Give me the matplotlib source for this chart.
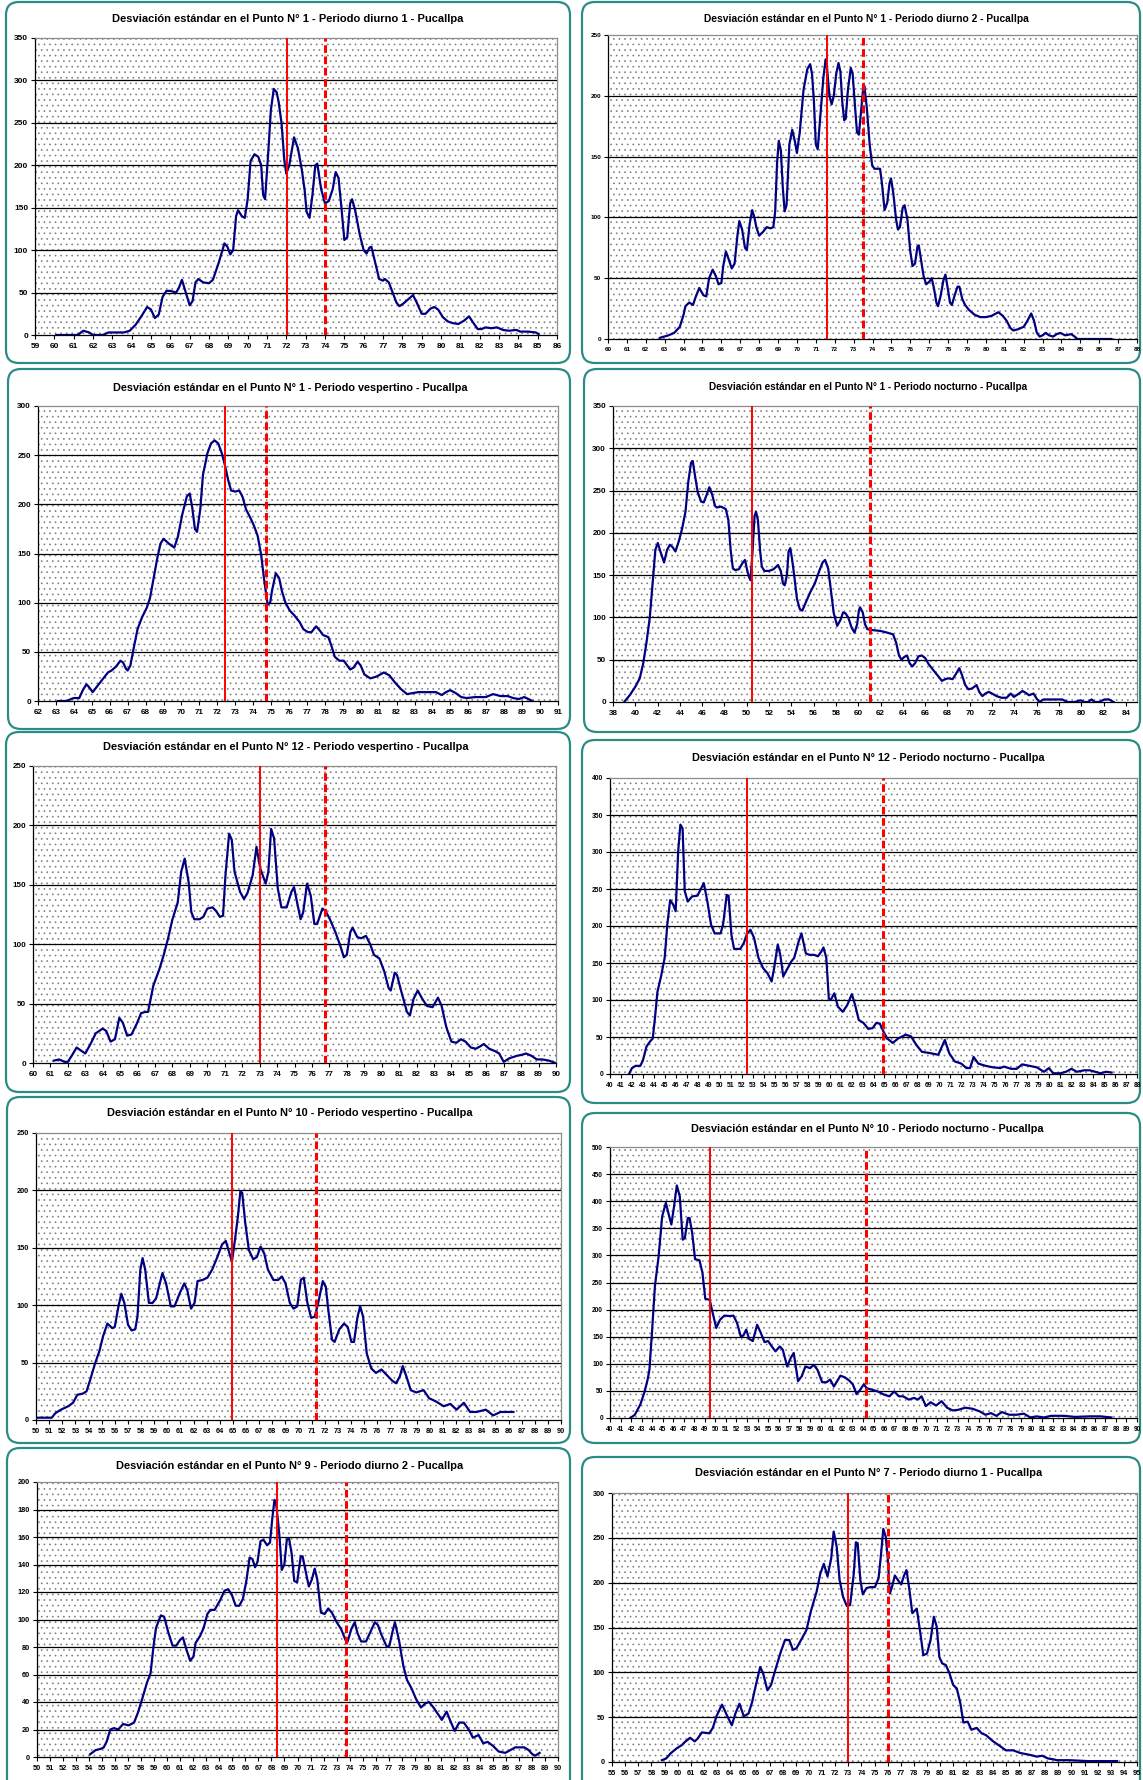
import matplotlib
matplotlib.use("Agg")
import matplotlib.pyplot as plt
from matplotlib.patches import FancyBboxPatch, Rectangle
import numpy as np

W, H = 1143, 1780
TEAL = "#2b8c86"
NAVY = "#000080"
RED = "#ff0000"

# ── data ────────────────────────────────────────────────────────────
p1_x = [60.1, 61.2, 61.5, 61.8, 62.0, 62.5, 62.8, 63.2, 63.6, 63.9,
        64.2, 64.5, 64.8, 65.0, 65.2, 65.4, 65.6, 65.8, 66.0, 66.3,
        66.45, 66.6, 66.8, 67.0, 67.15, 67.3, 67.45, 67.7, 68.0, 68.2,
        68.5, 68.8, 68.95, 69.1, 69.25, 69.4, 69.5, 69.7, 69.85, 70.0,
        70.15, 70.35, 70.55, 70.7, 70.8, 70.9, 71.05, 71.2, 71.35, 71.5,
        71.6, 71.75, 71.9, 72.0, 72.15, 72.4, 72.6, 72.8, 72.95, 73.05,
        73.2, 73.35, 73.5, 73.6, 73.8, 74.0, 74.2, 74.4, 74.55, 74.7,
        74.85, 75.0, 75.15, 75.3, 75.4, 75.55, 75.8, 76.0, 76.15, 76.3,
        76.4, 76.6, 76.8, 77.0, 77.1, 77.3, 77.5, 77.7, 77.85, 78.05,
        78.3, 78.55, 78.75, 79.0, 79.2, 79.45, 79.65, 79.85, 80.1, 80.35,
        80.6, 80.9, 81.2, 81.45, 81.65, 81.9, 82.1, 82.3, 82.6, 82.9,
        83.2, 83.5, 83.9, 84.1, 84.5, 84.9, 85.05]
p1_y = [0, 0, 5, 3, 0, 0, 3, 3, 3, 5,
        12, 22, 33, 30, 20, 24, 45, 52, 52, 50,
        56, 65, 50, 35, 40, 62, 66, 62, 61, 65,
        85, 108, 104, 95, 100, 140, 147, 140, 138, 160,
        205, 213, 210, 200, 165, 160, 210, 265, 290, 286,
        275, 250, 205, 190, 200, 233, 220, 195, 170, 145,
        138, 165, 200, 202, 172, 155, 158, 172, 192, 185,
        150, 112, 115, 155, 160, 148, 118, 100, 96, 103,
        104, 85, 66, 64, 66, 62, 50, 38, 34, 37,
        42, 47, 38, 25, 25, 31, 33, 30, 21, 16,
        14, 13, 17, 22, 15, 7, 7, 9, 8, 9,
        6, 5, 6, 4, 4, 3, 1]

p2_x = [62.75, 63.2, 63.5, 63.8, 64.0, 64.1, 64.3, 64.5, 64.65, 64.83,
        65.05, 65.2, 65.35, 65.54, 65.7, 65.85, 66.0, 66.1, 66.24, 66.4,
        66.55, 66.7, 66.85, 66.95, 67.1, 67.25, 67.35, 67.5, 67.63, 67.75,
        67.85, 68.0, 68.2, 68.4, 68.6, 68.75, 68.85, 68.95, 69.04, 69.15,
        69.25, 69.35, 69.45, 69.6, 69.75, 69.9, 70.0, 70.15, 70.35, 70.55,
        70.7, 70.8, 70.9, 71.0, 71.1, 71.25, 71.4, 71.52, 71.6, 71.72,
        71.84, 71.95, 72.08, 72.2, 72.3, 72.4, 72.5, 72.58, 72.7, 72.85,
        72.95, 73.08, 73.18, 73.28, 73.38, 73.5, 73.57, 73.7, 73.85, 73.98,
        74.1, 74.4, 74.5, 74.64, 74.78, 74.9, 74.98, 75.1, 75.25, 75.35,
        75.45, 75.6, 75.7, 75.85, 76.0, 76.12, 76.25, 76.38, 76.45, 76.6,
        76.7, 76.84, 77.0, 77.13, 77.25, 77.38, 77.47, 77.6, 77.75, 77.86,
        78.0, 78.1, 78.2, 78.35, 78.5, 78.6, 78.75, 78.9, 79.1, 79.4,
        79.7, 80.0, 80.3, 80.66, 80.9, 81.1, 81.3, 81.45, 81.7, 82.0,
        82.2, 82.4, 82.55, 82.7, 82.85, 83.0, 83.17, 83.35, 83.56, 83.75,
        83.94, 84.2, 84.52, 84.7, 84.85, 85.5, 86.65]
p2_y = [1, 3, 5, 10, 20, 27, 30, 28, 35, 42,
        36, 35, 50, 57, 52, 45, 46, 60, 72, 65,
        58, 62, 85, 97, 90, 75, 73, 95, 106, 100,
        92, 85, 88, 92, 91, 92, 105, 145, 163, 155,
        125, 105, 110, 160, 172, 162, 153, 170, 205, 222,
        226, 218, 195, 160, 156, 185, 215, 230, 222, 200,
        193, 200, 218, 227, 220, 195, 180, 181, 205, 223,
        218, 190, 170, 168, 185, 205, 208, 190, 160, 143,
        140, 140, 128, 106, 112, 128, 132, 120, 98, 90,
        92, 108, 110, 98, 72, 60, 62, 76, 77, 62,
        52, 45, 47, 50, 42, 30, 27, 35, 48, 53,
        40, 30, 28, 36, 43, 43, 33, 28, 24, 20,
        18, 18, 19, 22, 19, 15, 9, 7, 8, 10,
        15, 21, 15, 5, 2, 3, 5, 3, 2, 4,
        5, 3, 4, 2, 0, 0, 0]

p3_x = [63.1, 63.6, 63.85, 64.0, 64.3, 64.5, 64.7, 64.85, 65.05, 65.3,
        65.6, 65.9, 66.1, 66.35, 66.6, 66.75, 66.9, 67.0, 67.15, 67.35,
        67.55, 67.8, 68.07, 68.25, 68.45, 68.65, 68.83, 69.0, 69.3, 69.6,
        69.8, 70.05, 70.3, 70.46, 70.6, 70.75, 70.87, 71.05, 71.2, 71.45,
        71.65, 71.85, 72.05, 72.25, 72.45, 72.6, 72.77, 73.0, 73.22, 73.4,
        73.6, 73.85, 74.05, 74.25, 74.45, 74.6, 74.75, 74.81, 74.95, 75.05,
        75.26, 75.45, 75.6, 75.8, 76.04, 76.3, 76.6, 76.8, 77.06, 77.25,
        77.51, 77.7, 77.9, 78.19, 78.35, 78.55, 78.8, 79.05, 79.25, 79.41,
        79.6, 79.82, 80.0, 80.2, 80.54, 80.9, 81.29, 81.6, 81.9, 82.25,
        82.58, 82.9, 83.19, 83.7, 84.2, 84.52, 84.75, 84.99, 85.3, 85.6,
        85.9, 86.4, 86.97, 87.38, 87.8, 88.2, 88.5, 88.81, 89.12, 89.35,
        89.57]
p3_y = [0, 0, 2, 3, 3, 11, 17, 14, 9, 15,
        22, 29, 31, 35, 41, 39, 33, 31, 36, 55,
        73, 85, 95, 105, 125, 145, 160, 165, 160, 156,
        167, 190, 208, 211, 197, 175, 172, 195, 230, 252,
        262, 265, 262, 252, 238, 225, 214, 213, 214, 208,
        195, 186, 178, 168, 148, 125, 105, 98, 100, 112,
        130, 125, 112, 100, 92, 87, 80, 73, 70, 70,
        76, 72, 67, 65, 57, 45, 41, 41, 36, 32,
        34, 40, 36, 27, 23, 25, 29, 26, 19, 12,
        7, 8, 9, 9, 9, 6, 9, 11, 8, 4,
        3, 4, 4, 7, 5, 5, 3, 2, 4, 2,
        0]

p4_x = [39.0, 39.5, 40.0, 40.4, 40.7, 41.0, 41.3, 41.55, 41.8, 42.02,
        42.25, 42.58, 42.85, 43.11, 43.35, 43.6, 43.9, 44.2, 44.5, 44.75,
        45.0, 45.15, 45.35, 45.6, 45.9, 46.14, 46.4, 46.64, 46.9, 47.15,
        47.3, 47.7, 48.12, 48.35, 48.55, 48.75, 48.95, 49.3, 49.6, 49.84,
        50.05, 50.2, 50.33, 50.5, 50.7, 50.83, 51.0, 51.2, 51.35, 51.58,
        52.0, 52.4, 52.8, 53.05, 53.25, 53.4, 53.6, 53.75, 53.9, 54.05,
        54.25, 54.5, 54.75, 54.98, 55.3, 55.7, 56.1, 56.5, 56.8, 57.02,
        57.3, 57.55, 57.8, 58.11, 58.4, 58.64, 58.84, 59.1, 59.4, 59.66,
        59.9, 60.05, 60.16, 60.4, 60.6, 60.82, 61.3, 62.0, 62.6, 63.12,
        63.4, 63.65, 63.88, 64.1, 64.38, 64.6, 64.84, 65.1, 65.4, 65.7,
        66.0, 66.3, 66.59, 66.9, 67.2, 67.5, 67.8, 68.07, 68.46, 68.75,
        69.06, 69.3, 69.6, 69.88, 70.2, 70.61, 70.85, 71.13, 71.4, 71.7,
        72.0, 72.4, 72.85, 73.3, 73.68, 73.95, 74.3, 74.73, 75.0, 75.32,
        75.72, 76.0, 76.25, 76.6, 76.97, 77.6, 78.29, 78.78, 79.4, 79.94,
        80.3, 80.6, 80.93, 81.2, 81.6, 82.08, 82.5, 82.9]
p4_y = [0, 8, 18, 28, 45, 70, 100, 140, 180, 188,
        178, 165, 180, 186, 183, 178, 190, 205, 225, 260,
        283, 285, 268, 248, 237, 236, 245, 254, 245, 232,
        230, 231, 228, 215, 180, 158, 156, 157, 164, 168,
        155, 148, 144, 175, 220, 225, 215, 178, 160, 155,
        155, 157, 162, 155, 140, 138, 150, 178, 182, 170,
        150, 122, 110, 108, 118, 130, 140, 155, 165, 168,
        158, 132, 105, 90, 97, 106, 105, 100, 88, 82,
        92, 108, 112, 106, 92, 86, 85, 84, 82, 80,
        70, 55, 50, 53, 55, 46, 42, 46, 54, 55,
        52, 45, 40, 35, 30, 25, 27, 28, 27, 33,
        40, 32, 20, 15, 16, 20, 12, 7, 10, 12,
        10, 7, 5, 5, 10, 6, 9, 13, 11, 8,
        10, 4, 0, 3, 3, 3, 3, 0, 0, 2,
        0, 0, 3, 0, 0, 3, 3, 0]

p5_x = [61.2, 61.5, 61.8, 62.0, 62.3, 62.5, 62.8, 63.0, 63.3, 63.6,
        64.0, 64.2, 64.45, 64.7, 64.95, 65.15, 65.4, 65.65, 65.95, 66.2,
        66.45, 66.6, 66.9, 67.25, 67.5, 67.75, 68.0, 68.3, 68.5, 68.7,
        68.93, 69.08, 69.25, 69.55, 69.77, 70.0, 70.3, 70.5, 70.72, 70.9,
        71.04, 71.25, 71.4, 71.56, 71.88, 72.1, 72.3, 72.6, 72.82, 73.03,
        73.2, 73.35, 73.5, 73.66, 73.83, 74.04, 74.25, 74.55, 74.82, 74.97,
        75.18, 75.35, 75.5, 75.72, 75.93, 76.14, 76.3, 76.6, 76.78, 77.03,
        77.35, 77.62, 77.83, 78.0, 78.2, 78.33, 78.6, 78.82, 79.1, 79.34,
        79.56, 79.87, 80.15, 80.4, 80.52, 80.75, 80.88, 81.13, 81.45, 81.62,
        81.83, 82.07, 82.33, 82.6, 82.92, 83.23, 83.44, 83.71, 84.0, 84.28,
        84.55, 84.81, 85.12, 85.4, 85.65, 85.86, 86.17, 86.5, 86.74, 87.0,
        87.33, 87.75, 88.07, 88.28, 88.6, 88.9, 89.22, 89.6, 89.96]
p5_y = [2, 3, 1, 1, 8, 13, 10, 8, 16, 25,
        29, 27, 18, 20, 38, 34, 23, 24, 33, 42,
        43, 43, 65, 79, 91, 105, 121, 135, 161, 172,
        152, 127, 121, 121, 123, 130, 131, 128, 123, 124,
        158, 193, 188, 161, 144, 138, 143, 158, 182, 164,
        157, 151, 161, 197, 189, 147, 131, 131, 144, 148,
        133, 121, 127, 151, 141, 117, 117, 130, 128, 121,
        110, 99, 89, 91, 110, 114, 106, 105, 107, 100,
        91, 88, 77, 63, 61, 76, 74, 60, 43, 40,
        54, 61, 54, 48, 47, 55, 48, 30, 18, 17,
        20, 18, 13, 12, 14, 16, 12, 10, 8, 1,
        4, 6, 7, 8, 6, 3, 3, 2, 0]

p6_x = [41.73, 42.0, 42.33, 42.76, 42.99, 43.32, 43.65, 43.89, 44.09, 44.32,
        44.65, 44.98, 45.22, 45.48, 45.75, 45.98, 46.21, 46.41, 46.61, 46.81,
        47.08, 47.48, 47.97, 48.31, 48.54, 48.87, 49.2, 49.53, 50.07, 50.3,
        50.63, 50.8, 51.06, 51.3, 51.86, 52.19, 52.46, 52.79, 53.12, 53.52,
        53.95, 54.35, 54.72, 54.95, 55.28, 55.51, 55.78, 56.11, 56.51, 56.78,
        57.18, 57.44, 57.84, 58.17, 58.6, 58.94, 59.27, 59.44, 59.7, 59.93,
        60.1, 60.43, 60.76, 61.2, 61.6, 62.03, 62.33, 62.66, 63.09, 63.52,
        63.92, 64.25, 64.58, 64.92, 65.25, 65.75, 66.25, 66.91, 67.41, 67.91,
        68.41, 69.24, 69.9, 70.23, 70.5, 70.9, 71.4, 72.0, 72.46, 72.79,
        73.12, 73.55, 74.22, 74.88, 75.55, 75.88, 76.54, 77.04, 77.54, 78.21,
        78.87, 79.53, 79.97, 80.37, 81.03, 81.53, 82.03, 82.52, 83.19, 83.69,
        84.19, 84.68, 85.18, 85.68]
p6_y = [0, 8, 11, 11, 18, 37, 44, 48, 75, 111,
        132, 157, 202, 235, 229, 220, 301, 337, 332, 247,
        233, 240, 241, 251, 258, 233, 202, 190, 190, 202,
        242, 241, 188, 169, 169, 177, 189, 195, 184, 157,
        143, 136, 125, 143, 175, 161, 132, 141, 152, 157,
        179, 190, 163, 161, 161, 159, 166, 171, 157, 102,
        100, 109, 91, 84, 93, 108, 93, 73, 69, 61,
        62, 69, 68, 57, 48, 42, 48, 53, 51, 39,
        30, 28, 26, 37, 46, 28, 17, 14, 8, 8,
        23, 14, 11, 9, 8, 10, 7, 7, 13, 11,
        9, 3, 8, 1, 1, 3, 7, 3, 5, 5,
        3, 1, 3, 2]

p7_x = [50.0, 51.2, 51.48, 51.9, 52.46, 52.82, 53.15, 53.57, 53.85, 54.13,
        54.49, 54.83, 55.11, 55.44, 55.81, 56.0, 56.28, 56.5, 56.73, 57.01,
        57.28, 57.56, 57.73, 57.95, 58.12, 58.32, 58.6, 58.88, 59.15, 59.63,
        59.91, 60.27, 60.55, 60.97, 61.3, 61.53, 61.81, 62.08, 62.31, 62.7,
        63.06, 63.42, 63.82, 64.18, 64.46, 64.74, 64.93, 65.16, 65.38, 65.57,
        65.71, 65.94, 66.22, 66.55, 66.83, 67.11, 67.39, 67.67, 68.09, 68.45,
        68.73, 69.01, 69.34, 69.62, 69.9, 70.18, 70.4, 70.68, 70.96, 71.24,
        71.52, 71.85, 72.08, 72.27, 72.55, 72.75, 73.11, 73.47, 73.75, 74.03,
        74.23, 74.5, 74.7, 74.92, 75.2, 75.54, 75.9, 76.32, 76.74, 77.16,
        77.44, 77.72, 77.94, 78.22, 78.55, 78.97, 79.53, 79.95, 80.5, 81.06,
        81.57, 82.04, 82.6, 83.07, 83.57, 84.27, 84.83, 85.39, 86.37]
p7_y = [2, 2, 6, 9, 12, 15, 22, 23, 25, 35,
        49, 60, 73, 84, 80, 81, 99, 110, 102, 83,
        78, 79, 90, 131, 141, 131, 102, 102, 106, 128,
        119, 99, 99, 111, 119, 113, 97, 102, 121, 122,
        124, 131, 142, 153, 156, 145, 138, 157, 177, 199,
        198, 172, 148, 140, 142, 151, 145, 131, 122, 122,
        125, 119, 102, 97, 99, 122, 124, 102, 89, 90,
        103, 121, 116, 96, 70, 68, 79, 84, 81, 68,
        68, 90, 99, 90, 58, 45, 41, 44, 39, 34,
        32, 38, 47, 38, 26, 24, 26, 19, 16, 12,
        14, 9, 15, 7, 7, 9, 4, 7, 7]

p8_x = [41.94, 42.36, 42.88, 43.29, 43.57, 43.74, 43.98, 44.26, 44.61, 44.95,
        45.3, 45.58, 45.82, 46.06, 46.34, 46.62, 46.9, 47.1, 47.38, 47.55,
        47.8, 48.07, 48.49, 48.77, 49.04, 49.46, 49.74, 50.08, 50.43, 50.85,
        51.37, 51.71, 52.06, 52.4, 52.65, 52.92, 53.2, 53.55, 53.96, 54.31,
        54.66, 55.0, 55.35, 55.7, 56.11, 56.39, 56.81, 57.15, 57.43, 57.84,
        58.19, 58.54, 58.99, 59.33, 59.68, 60.13, 60.55, 60.89, 61.24, 61.86,
        62.28, 62.7, 63.04, 63.39, 63.73, 64.08, 64.36, 64.88, 65.4, 66.02,
        66.51, 66.96, 67.41, 67.82, 68.34, 68.86, 69.21, 69.56, 69.97, 70.42,
        70.94, 71.46, 71.98, 72.5, 73.02, 73.71, 74.41, 75.1, 75.62, 76.14,
        76.66, 77.18, 77.87, 78.57, 79.26, 79.88, 80.47, 81.16, 81.86, 83.07,
        84.11, 85.5, 86.54, 87.57]
p8_y = [0, 6, 25, 49, 71, 89, 157, 243, 298, 372,
        397, 375, 357, 388, 429, 409, 329, 332, 369, 369,
        341, 293, 291, 268, 220, 218, 194, 166, 181, 189,
        188, 189, 175, 151, 152, 163, 146, 142, 172, 157,
        140, 142, 132, 123, 132, 126, 95, 111, 120, 68,
        77, 95, 92, 98, 89, 66, 66, 71, 58, 78,
        75, 69, 62, 44, 52, 62, 55, 52, 49, 43,
        40, 49, 40, 40, 34, 37, 34, 40, 22, 29,
        23, 31, 19, 14, 15, 19, 17, 12, 6, 9,
        4, 11, 6, 6, 8, 1, 3, 1, 4, 4,
        2, 3, 3, 1]

p9_x = [54.08, 54.5, 54.92, 55.12, 55.34, 55.63, 55.91, 56.24, 56.61, 57.03,
        57.45, 57.74, 58.1, 58.44, 58.72, 58.95, 59.14, 59.51, 59.76, 60.07,
        60.41, 60.69, 60.97, 61.2, 61.48, 61.76, 62.01, 62.18, 62.52, 62.8,
        63.08, 63.31, 63.64, 64.06, 64.4, 64.68, 64.96, 65.25, 65.53, 65.81,
        66.09, 66.32, 66.54, 66.74, 66.93, 67.16, 67.38, 67.67, 67.89, 68.06,
        68.23, 68.34, 68.5, 68.62, 68.79, 68.99, 69.18, 69.35, 69.55, 69.75,
        69.97, 70.25, 70.39, 70.67, 70.87, 71.1, 71.32, 71.52, 71.8, 72.08,
        72.36, 72.64, 73.01, 73.35, 73.69, 73.85, 74.13, 74.39, 74.61, 74.89,
        75.26, 75.6, 75.94, 76.17, 76.44, 76.86, 77.06, 77.29, 77.48, 77.79,
        78.13, 78.41, 78.75, 79.11, 79.48, 79.82, 80.1, 80.44, 80.8, 81.08,
        81.45, 81.79, 82.07, 82.41, 82.77, 83.14, 83.47, 83.9, 84.26, 84.6,
        85.02, 85.44, 85.95, 86.34, 86.71, 87.41, 87.75, 88.03, 88.26, 88.59]
p9_y = [2, 5, 6, 7, 11, 20, 21, 20, 24, 23,
        25, 32, 43, 54, 61, 81, 94, 103, 102, 91,
        81, 81, 85, 87, 78, 70, 73, 83, 88, 94,
        104, 107, 107, 114, 121, 122, 118, 110, 110, 115,
        129, 145, 144, 138, 142, 157, 158, 154, 156, 173,
        187, 186, 172, 160, 136, 140, 158, 159, 148, 128,
        127, 146, 146, 133, 124, 129, 137, 129, 105, 104,
        108, 105, 98, 93, 85, 84, 93, 98, 90, 84,
        84, 91, 98, 96, 89, 80, 81, 91, 98, 85,
        66, 56, 50, 42, 36, 39, 40, 36, 31, 27,
        33, 25, 19, 25, 25, 20, 14, 16, 10, 11,
        8, 4, 3, 5, 7, 7, 5, 2, 1, 3]

p10_x = [58.8, 59.13, 59.49, 59.91, 60.33, 60.6, 60.96, 61.3, 61.52, 61.85,
         62.41, 62.68, 62.96, 63.38, 63.79, 64.13, 64.4, 64.71, 65.04, 65.4,
         65.68, 65.87, 66.29, 66.51, 66.84, 67.12, 67.45, 67.82, 68.18, 68.51,
         68.79, 69.06, 69.4, 69.81, 70.17, 70.59, 70.87, 71.14, 71.42, 71.7,
         71.89, 72.12, 72.34, 72.61, 72.89, 73.14, 73.42, 73.58, 73.72, 73.92,
         74.11, 74.39, 74.67, 75.03, 75.31, 75.5, 75.67, 75.86, 76.0, 76.17,
         76.33, 76.55, 76.78, 77.03, 77.25, 77.44, 77.66, 77.88, 78.22, 78.5,
         78.72, 79.0, 79.27, 79.52, 79.74, 79.94, 80.16, 80.44, 80.71, 80.99,
         81.27, 81.55, 81.77, 82.1, 82.38, 82.79, 83.16, 83.49, 84.04, 84.54,
         85.01, 85.57, 86.12, 86.82, 87.37, 87.79, 88.2, 88.62, 88.9, 89.87,
         91.26, 92.09, 93.48]
p10_y = [2, 4, 10, 15, 19, 23, 27, 23, 26, 33,
         32, 38, 51, 64, 51, 41, 54, 65, 51, 54,
         67, 80, 106, 99, 80, 86, 103, 121, 136, 136,
         125, 127, 136, 147, 169, 190, 210, 221, 207, 227,
         257, 240, 203, 184, 174, 175, 210, 245, 244, 203,
         187, 194, 195, 195, 205, 232, 260, 251, 229, 188,
         195, 208, 203, 198, 208, 214, 192, 166, 171, 143,
         119, 121, 136, 162, 151, 117, 110, 108, 99, 86,
         82, 65, 44, 45, 36, 38, 32, 30, 23, 18,
         13, 13, 10, 8, 6, 7, 4, 3, 2, 2,
         1, 1, 1]

# solid red line (mean) and dashed red line, per panel
v_solid = [72.04, 71.58, 72.44, 50.46, 73.0, 52.46, 64.96, 49.53, 68.42, 72.95]
v_dashed = [74.0, 73.52, 74.73, 61.08, 76.73, 64.85, 71.3, 64.29, 73.69, 76.0]

titles = [
    "Desviación estándar en el Punto N° 1 - Periodo diurno 1 - Pucallpa",
    "Desviación estándar en el Punto N° 1 - Periodo diurno 2 - Pucallpa",
    "Desviación estándar en el Punto N° 1 - Periodo vespertino - Pucallpa",
    "Desviación estándar en el Punto N° 1 - Periodo nocturno - Pucallpa",
    "Desviación estándar en el Punto N° 12 - Periodo vespertino - Pucallpa",
    "Desviación estándar en el Punto N° 12 - Periodo nocturno - Pucallpa",
    "Desviación estándar en el Punto N° 10 - Periodo vespertino - Pucallpa",
    "Desviación estándar en el Punto N° 10 - Periodo nocturno - Pucallpa",
    "Desviación estándar en el Punto N° 9 - Periodo diurno 2 - Pucallpa",
    "Desviación estándar en el Punto N° 7 - Periodo diurno 1 - Pucallpa",
]

series = [(p1_x, p1_y), (p2_x, p2_y), (p3_x, p3_y), (p4_x, p4_y), (p5_x, p5_y),
          (p6_x, p6_y), (p7_x, p7_y), (p8_x, p8_y), (p9_x, p9_y), (p10_x, p10_y)]

# axis ranges: (xmin, xmax, xstep, ymax, ystep)
axis_ranges = [
    (59, 86, 1, 350, 50),
    (60, 88, 1, 250, 50),
    (62, 91, 1, 300, 50),
    (38, 85, 2, 350, 50),
    (60, 90, 1, 250, 50),
    (40, 88, 1, 400, 50),
    (50, 90, 1, 250, 50),
    (40, 90, 1, 500, 50),
    (50, 90, 1, 200, 20),
    (55, 95, 1, 300, 50),
]

# ── layout in pixels (from top-left) ────────────────────────────────
# box (x0, y0, x1, y1), axes (L, T, R, B), title (cx, cy, size), tick size
layout = [
    ((6, 2, 570, 363),      (35, 38, 557, 335),     (288, 19, 8.0),   6.0),
    ((582, 2, 1140, 363),   (608, 35, 1137, 339),   (866, 19, 7.4),   4.6),
    ((8, 369, 570, 729),    (38, 406, 558, 701),    (290, 388, 7.8),  5.8),
    ((584, 369, 1140, 732), (613, 406, 1137, 702),  (868, 387, 7.2),  5.8),
    ((6, 732, 570, 1092),   (33, 766, 556, 1063),   (286, 747, 7.9),  5.8),
    ((582, 740, 1140, 1103), (610, 778, 1137, 1074), (868, 758, 7.8), 4.9),
    ((7, 1097, 570, 1443),  (36, 1133, 561, 1420),  (290, 1113, 7.9), 5.3),
    ((582, 1113, 1140, 1443), (610, 1147, 1137, 1418), (867, 1129, 7.8), 4.7),
    ((7, 1448, 570, 1795),  (37, 1482, 558, 1757),  (290, 1466, 7.9), 5.3),
    ((582, 1457, 1140, 1795), (612, 1493, 1137, 1762), (869, 1473, 7.9), 5.3),
]

plt.rcParams["font.family"] = ["Liberation Sans", "DejaVu Sans"]
plt.rcParams["hatch.linewidth"] = 0.45

fig = plt.figure(figsize=(W / 100, H / 100), dpi=100)
fig.patch.set_facecolor("white")
bg = fig.add_axes([0, 0, 1, 1])
bg.set_xlim(0, W)
bg.set_ylim(H, 0)
bg.axis("off")

for i in range(10):
    (x0, y0, x1, y1), (L, T, R, B), (tx, ty, tfs), kfs = layout[i]
    xs, ys = series[i]
    xmin, xmax, xstep, ymax, ystep = axis_ranges[i]

    bg.add_patch(FancyBboxPatch((x0, y0), x1 - x0, y1 - y0,
                                boxstyle="round,pad=0,rounding_size=13",
                                fc="white", ec=TEAL, lw=1.6))
    bg.text(tx, ty, titles[i], ha="center", va="center",
            fontsize=tfs, weight="bold", color="black")

    ax = fig.add_axes([L / W, 1 - B / H, (R - L) / W, (B - T) / H])
    ax.patch.set_visible(False)
    # dotted plot-area fill
    ax.add_patch(Rectangle((0, 0), 1, 1, transform=ax.transAxes, fc="white",
                           ec="#7a7a7a", lw=0, hatch="...", zorder=0))

    yt = np.arange(0, ymax + 1, ystep)
    for y in yt[1:-1]:
        ax.axhline(y, color="black", lw=0.9, zorder=1)

    ax.plot(xs, ys, color=NAVY, lw=1.6, zorder=3, solid_joinstyle="round")
    ax.axvline(v_solid[i], color=RED, lw=1.4, zorder=4)
    ax.axvline(v_dashed[i], color=RED, lw=2.2, ls=(0, (2.5, 1.2)), zorder=4)

    ax.set_xlim(xmin, xmax)
    ax.set_ylim(0, ymax)
    xt = np.arange(xmin, xmax + 0.01, xstep)
    ax.set_xticks(xt, labels=[str(int(v)) for v in xt], fontweight="bold")
    ax.set_yticks(yt, labels=[str(int(v)) for v in yt], fontweight="bold")
    ax.tick_params(direction="out", length=3, width=0.8, labelsize=kfs, pad=2,
                   colors="black")
    ax.tick_params(axis="x", pad=3)
    for side in ("left", "bottom"):
        ax.spines[side].set_color("black")
        ax.spines[side].set_linewidth(0.9)
    for side in ("top", "right"):
        ax.spines[side].set_color("#8c8c8c")
        ax.spines[side].set_linewidth(0.9)

fig.savefig("out.png", dpi=100, facecolor="white")
